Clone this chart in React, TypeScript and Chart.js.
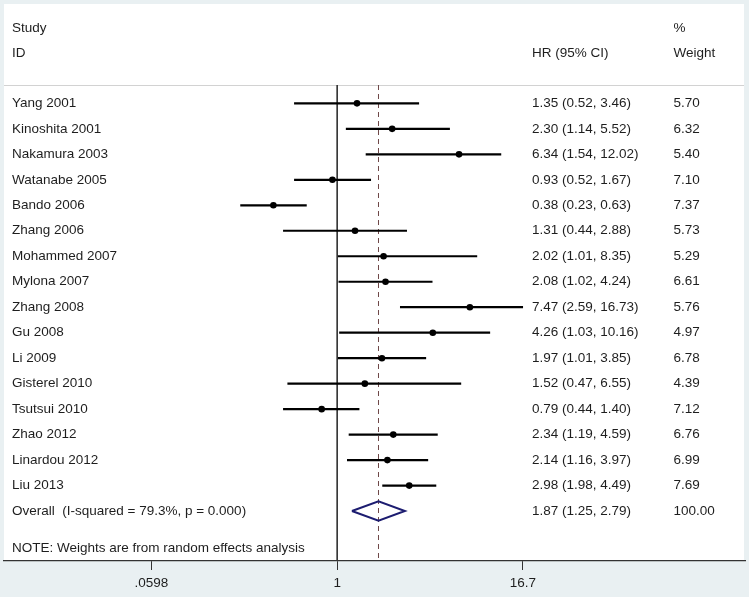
import React, { useEffect, useRef } from "react";
import { Chart, registerables } from "chart.js";

Chart.register(...registerables);

// ---------------- data ----------------
const studies = [
  "Yang 2001",
  "Kinoshita 2001",
  "Nakamura 2003",
  "Watanabe 2005",
  "Bando 2006",
  "Zhang 2006",
  "Mohammed 2007",
  "Mylona 2007",
  "Zhang 2008",
  "Gu 2008",
  "Li 2009",
  "Gisterel 2010",
  "Tsutsui 2010",
  "Zhao 2012",
  "Linardou 2012",
  "Liu 2013",
];
const hr = [1.35, 2.3, 6.34, 0.93, 0.38, 1.31, 2.02, 2.08, 7.47, 4.26, 1.97, 1.52, 0.79, 2.34, 2.14, 2.98];
const ciLow = [0.52, 1.14, 1.54, 0.52, 0.23, 0.44, 1.01, 1.02, 2.59, 1.03, 1.01, 0.47, 0.44, 1.19, 1.16, 1.98];
const ciHigh = [3.46, 5.52, 12.02, 1.67, 0.63, 2.88, 8.35, 4.24, 16.73, 10.16, 3.85, 6.55, 1.4, 4.59, 3.97, 4.49];
const weights = [5.7, 6.32, 5.4, 7.1, 7.37, 5.73, 5.29, 6.61, 5.76, 4.97, 6.78, 4.39, 7.12, 6.76, 6.99, 7.69];

const overallLabel = "Overall  (I-squared = 79.3%, p = 0.000)";
const overallHR = 1.87;
const overallLow = 1.25;
const overallHigh = 2.79;
const overallWeight = 100.0;

const headerLeft = ["Study", "ID"];
const headerHR = "HR (95% CI)";
const headerWeight = ["%", "Weight"];
const noteText = "NOTE: Weights are from random effects analysis";

const tickValues = [0.0598, 1, 16.7];
const tickLabels = [".0598", "1", "16.7"];

// axis ranges
const xMin = 0.0064;
const xMax = 484;
const yMin = -3.9;
const yMax = 17.96;

// row positions (in row units)
const overallRow = studies.length;
const dividerRow = -0.72;
const headerRows = [-2.95, -1.97];
const noteRow = 17.45;
const diamondHalf = 0.38;

const FONT_FAMILY = "'Liberation Sans', Arial, Helvetica, sans-serif";
const FONT_SIZE = 13.5;
const TEXT_COLOR = "#1e1e1e";

const fmt = (v: number) => v.toFixed(2);

export default function App() {
  const ref = useRef<HTMLCanvasElement | null>(null);

  useEffect(() => {
    if (!ref.current) return;

    const bgPlugin = {
      id: "bgPanel",
      beforeDraw(chart: any) {
        const { ctx, chartArea: a, width, height } = chart;
        ctx.save();
        ctx.fillStyle = "#e9f0f2";
        ctx.fillRect(0, 0, width, height);
        ctx.fillStyle = "#ffffff";
        ctx.fillRect(a.left, a.top, a.right - a.left - 1, a.bottom - a.top);
        const y = Math.round(chart.scales.y.getPixelForValue(dividerRow)) + 0.5;
        ctx.strokeStyle = "#d2d2d2";
        ctx.lineWidth = 1;
        ctx.beginPath();
        ctx.moveTo(a.left, y);
        ctx.lineTo(a.right - 1, y);
        ctx.stroke();
        ctx.restore();
      },
    };

    const textPlugin = {
      id: "forestText",
      afterDraw(chart: any) {
        const { ctx, chartArea: a } = chart;
        const ys = chart.scales.y;
        const colLeft = a.left + 8;
        const colHR = a.left + 528;
        const colW = a.left + 669.5;
        ctx.save();
        ctx.fillStyle = TEXT_COLOR;
        ctx.font = `${FONT_SIZE}px ${FONT_FAMILY}`;
        ctx.textBaseline = "middle";
        ctx.textAlign = "left";
        // headers
        ctx.fillText(headerLeft[0], colLeft, ys.getPixelForValue(headerRows[0]));
        ctx.fillText(headerLeft[1], colLeft, ys.getPixelForValue(headerRows[1]));
        ctx.fillText(headerHR, colHR, ys.getPixelForValue(headerRows[1]));
        ctx.fillText(headerWeight[0], colW, ys.getPixelForValue(headerRows[0]));
        ctx.fillText(headerWeight[1], colW, ys.getPixelForValue(headerRows[1]));
        // studies
        studies.forEach((s, i) => {
          const y = ys.getPixelForValue(i);
          ctx.fillText(s, colLeft, y);
          ctx.fillText(`${fmt(hr[i])} (${fmt(ciLow[i])}, ${fmt(ciHigh[i])})`, colHR, y);
          ctx.fillText(fmt(weights[i]), colW, y);
        });
        const yo = ys.getPixelForValue(overallRow);
        ctx.fillText(overallLabel, colLeft, yo);
        ctx.fillText(`${fmt(overallHR)} (${fmt(overallLow)}, ${fmt(overallHigh)})`, colHR, yo);
        ctx.fillText(fmt(overallWeight), colW, yo);
        ctx.fillText(noteText, colLeft, ys.getPixelForValue(noteRow));
        ctx.restore();
      },
    };

    const ciDatasets = studies.map((s, i) => ({
      label: s,
      data: [
        { x: ciLow[i], y: i },
        { x: ciHigh[i], y: i },
      ],
      showLine: true,
      borderColor: "#000000",
      borderWidth: 2.2,
      pointRadius: 0,
      fill: false,
    }));

    const datasets: any[] = [
      {
        label: "overall diamond",
        data: [
          { x: overallLow, y: overallRow },
          { x: overallHR, y: overallRow - diamondHalf },
          { x: overallHigh, y: overallRow },
          { x: overallHR, y: overallRow + diamondHalf },
          { x: overallLow, y: overallRow },
        ],
        showLine: true,
        borderColor: "#1c1c70",
        borderWidth: 2,
        pointRadius: 0,
        fill: false,
        borderJoinStyle: "miter",
      },
      {
        label: "estimates",
        data: hr.map((v, i) => ({ x: v, y: i })),
        pointRadius: 3.3,
        pointBorderWidth: 0,
        backgroundColor: "#000000",
        borderColor: "#000000",
      },
      ...ciDatasets,
      {
        label: "overall line",
        data: [
          { x: overallHR, y: dividerRow },
          { x: overallHR, y: yMax },
        ],
        showLine: true,
        borderColor: "#6e4646",
        borderWidth: 1,
        borderDash: [5, 4],
        pointRadius: 0,
      },
      {
        label: "null line",
        data: [
          { x: 1, y: dividerRow },
          { x: 1, y: yMax },
        ],
        showLine: true,
        borderColor: "#333333",
        borderWidth: 1,
        pointRadius: 0,
      },
    ];

    const chart = new Chart(ref.current, {
      type: "scatter",
      data: { datasets },
      options: {
        animation: false,
        responsive: false,
        events: [],
        layout: { padding: { left: 4, right: 3, top: 4, bottom: 0 } },
        plugins: {
          legend: { display: false },
          tooltip: { enabled: false },
          title: { display: false },
        },
        scales: {
          x: {
            type: "logarithmic",
            min: xMin,
            max: xMax,
            bounds: "data",
            afterBuildTicks: (scale: any) => {
              scale.ticks = tickValues.map((v) => ({ value: v }));
            },
            afterFit: (scale: any) => {
              scale.height = 36;
            },
            border: { display: true, color: "#333333", width: 1.2 },
            grid: {
              display: true,
              drawOnChartArea: false,
              drawTicks: true,
              tickLength: 9,
              tickColor: "#333333",
              tickWidth: 1,
            },
            ticks: {
              autoSkip: false,
              maxRotation: 0,
              padding: 5,
              color: TEXT_COLOR,
              font: { family: FONT_FAMILY, size: FONT_SIZE },
              callback: (v: any) => {
                const idx = tickValues.indexOf(Number(v));
                return idx >= 0 ? tickLabels[idx] : "";
              },
            },
          },
          y: {
            type: "linear",
            display: false,
            reverse: true,
            min: yMin,
            max: yMax,
          },
        },
      },
      plugins: [bgPlugin, textPlugin],
    } as any);

    return () => chart.destroy();
  }, []);

  return (
    <div style={{ position: "absolute", left: 0, top: 0, width: 749, height: 597 }}>
      <canvas ref={ref} width={749} height={597} style={{ display: "block", width: 749, height: 597 }} />
    </div>
  );
}
